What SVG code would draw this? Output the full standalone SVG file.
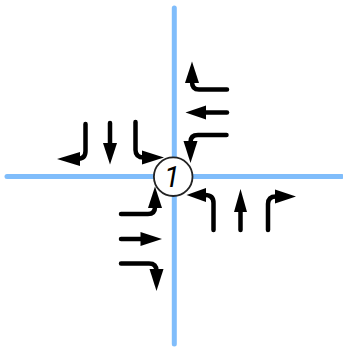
<svg xmlns="http://www.w3.org/2000/svg" width="343" height="347" viewBox="0 0 343 347">
<style>
.road{fill:none;stroke:#80BDFB;stroke-width:5;stroke-linecap:round}
.st{fill:none;stroke:#000;stroke-width:4.500;stroke-linecap:round;stroke-linejoin:round}
.hd{fill:#000;stroke:none}
.lbl{font-family:Roboto,"Liberation Sans",sans-serif;font-style:italic;font-weight:400;font-size:29px;fill:#000;text-anchor:middle}
</style>
<g id="connectors">
<path class="road" d="M174.300 8V344"/>
<path class="road" d="M7 176.500H342"/>
</g>
<g id="north-arrows">
<path class="st" d="M85.500 124V151Q85.500 159 77 159H72"/><polygon class="hd" points="57,159 80,152 80,166"/>
<path class="st" d="M110 123V146"/><polygon class="hd" points="110,164.500 103,143 117,143"/>
<path class="st" d="M135.500 122V150Q135.500 157.500 144 157.500H150"/><polygon class="hd" points="164,157.500 142,150.500 142,164.500"/>
</g>
<g id="east-arrows">
<path class="st" d="M227 89.500H199Q192 89.500 192 82V76"/><polygon class="hd" points="192,61.500 185,83 199,83"/>
<path class="st" d="M227 112.500H204"/><polygon class="hd" points="185.500,112.500 206,105.500 206,119.500"/>
<path class="st" d="M226.500 135H198Q190.500 135 190.500 142V148"/><polygon class="hd" points="190.500,163 183.500,141 197.500,141"/>
</g>
<g id="south-arrows">
<path class="st" d="M213.500 230V203Q213.500 195 205 195H200"/><polygon class="hd" points="186.500,195 206,188 206,202"/>
<path class="st" d="M240.500 230V210"/><polygon class="hd" points="240.500,189 234,212 247,212"/>
<path class="st" d="M268 230V204Q268 196.500 276 196.500H282"/><polygon class="hd" points="296,196.500 275,189.500 275,203.500"/>
</g>
<g id="west-arrows">
<path class="st" d="M121 214H148Q155 214 155 207V201"/><polygon class="hd" points="155,186.500 148,208 162,208"/>
<path class="st" d="M121 239H143"/><polygon class="hd" points="162,239 140.500,232 140.500,246"/>
<path class="st" d="M121 263.500H149Q156.500 263.500 156.500 271V276"/><polygon class="hd" points="156.500,291 149.500,269 163.500,269"/>
</g>
<g id="node-1">
<circle cx="173.200" cy="176.700" r="19.300" fill="#fff" stroke="#222" stroke-width="1.800"/>
<text class="lbl" x="172" y="187">1</text>
</g>
</svg>
